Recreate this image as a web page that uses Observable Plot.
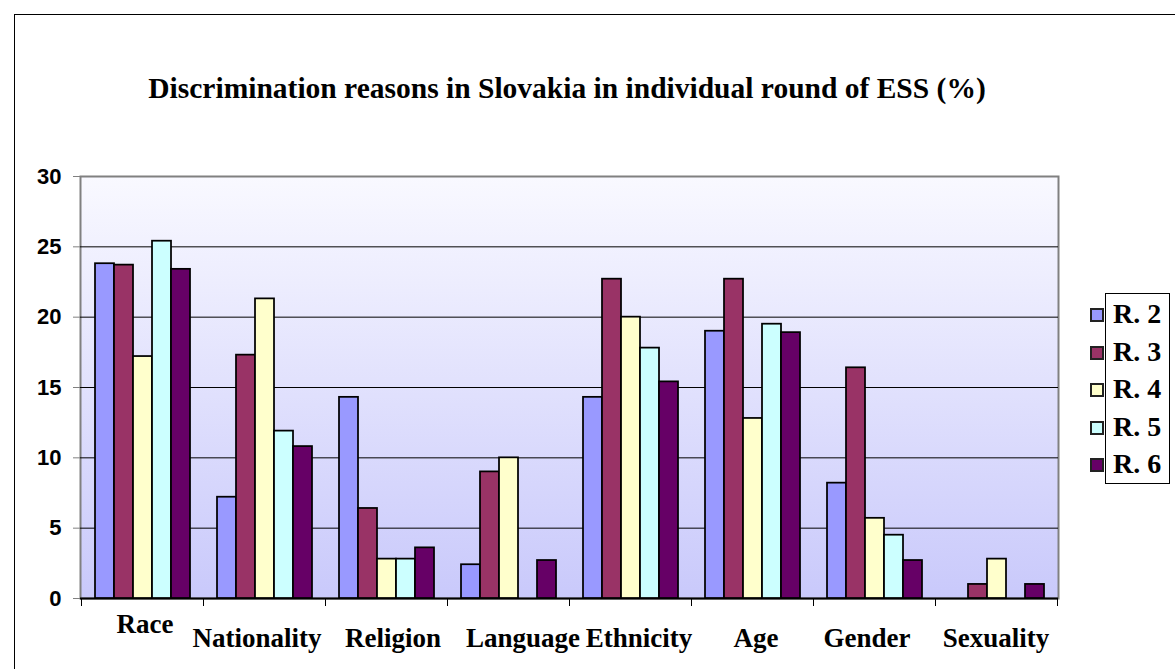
<!DOCTYPE html>
<html>
<head>
<meta charset="utf-8">
<script src="https://cdn.jsdelivr.net/npm/d3@7"></script>
<script src="https://cdn.jsdelivr.net/npm/@observablehq/plot@0.6"></script>
<style>
  html, body { margin: 0; padding: 0; background: #fff; overflow: hidden; }
  #wrap { position: relative; width: 1175px; height: 669px; }
  #frame { position: absolute; left: 14px; top: 14px; width: 1200px; height: 700px;
           border-left: 1px solid #000; border-top: 1px solid #000; }
  #title { position: absolute; left: 0; top: 74px; width: 1134px; text-align: center;
           font: bold 29.5px/29.5px "Liberation Serif", "Times New Roman", serif; color: #000; }
  .layer { position: absolute; left: 0; top: 0; }
  #legend { position: absolute; left: 1105px; top: 293px; width: 63px; height: 189px;
            border: 1px solid #000; }
  .item { position: absolute; left: -16px; height: 28px;
          font: bold 28px/28px "Liberation Serif", "Times New Roman", serif; color: #000; white-space: nowrap; }
  .sw { position: absolute; left: 0; top: 8px; width: 10px; height: 10px; border: 2px solid #222; }
  .lab { position: absolute; left: 23px; top: 0; }
</style>
</head>
<body>
<div id="wrap">
  <div id="frame"></div>
  <div id="back" class="layer"></div>
  <div id="front" class="layer"></div>
  <div id="title">Discrimination reasons in Slovakia in individual round of ESS (%)</div>
  <div id="legend"></div>
</div>
<script>
const categories = ["Race", "Nationality", "Religion", "Language", "Ethnicity", "Age", "Gender", "Sexuality"];
const rounds = ["R. 2", "R. 3", "R. 4", "R. 5", "R. 6"];
const r2 = [23.8, 7.2, 14.3, 2.4, 14.3, 19.0, 8.2, 0];
const r3 = [23.7, 17.3, 6.4, 9.0, 22.7, 22.7, 16.4, 1.0];
const r4 = [17.2, 21.3, 2.8, 10.0, 20.0, 12.8, 5.7, 2.8];
const r5 = [25.4, 11.9, 2.8, 0, 17.8, 19.5, 4.5, 0];
const r6 = [23.4, 10.8, 3.6, 2.7, 15.4, 18.9, 2.7, 1.0];
const roundColors = ["#9999ff", "#993366", "#ffffcc", "#ccffff", "#660066"];
const yTicks = [0, 5, 10, 15, 20, 25, 30];
const gridTicks = [5, 10, 15, 20, 25];

// label styling: horizontal nudges and stagger (as laid out in the original)
const labelDx = [2, -8, 6, 14, 8, 3, -8, -1];
const labelPad = [15, 29, 29, 29, 29, 29, 29, 29];

const series = [r2, r3, r4, r5, r6];
const data = [];
categories.forEach((c, i) => rounds.forEach((r, j) => data.push({category: c, round: r, value: series[j][i]})));

const serif = '"Liberation Serif", "Times New Roman", serif';
const sans = '"Liberation Sans", Arial, sans-serif';
const common = {width: 1175, height: 669, marginLeft: 80, marginRight: 117, marginTop: 176, marginBottom: 71};

// background layer: plot area, gridlines, baseline and value axis
const back = Plot.plot({
  ...common,
  style: {background: "transparent", overflow: "visible"},
  y: {domain: [0, 30], label: null},
  marks: [
    Plot.frame({fill: "url(#bgGrad)", stroke: "#808080", strokeWidth: 2}),
    Plot.ruleY(gridTicks, {stroke: "#000", strokeWidth: 1}),
    Plot.ruleY([0], {stroke: "#000", strokeWidth: 2}),
    Plot.axisY({ticks: yTicks, tickSize: 7, tickPadding: 12, label: null,
      stroke: "#808080", fontSize: 22, fontFamily: sans, fontWeight: "bold", color: "#000"})
  ]
});
const bsvg = d3.select(back);
const grad = bsvg.insert("defs", ":first-child").append("linearGradient")
  .attr("id", "bgGrad").attr("x1", 0).attr("y1", 0).attr("x2", 0).attr("y2", 1);
grad.append("stop").attr("offset", "0%").attr("stop-color", "#f9f9ff");
grad.append("stop").attr("offset", "100%").attr("stop-color", "#c9c9fb");
document.getElementById("back").appendChild(back);

// front layer: grouped bars faceted by category
const front = Plot.plot({
  ...common,
  style: {background: "transparent", overflow: "visible"},
  fx: {domain: categories, paddingInner: 0.223, paddingOuter: 0.1115, label: null},
  x: {domain: rounds, padding: 0, axis: null},
  y: {domain: [0, 30], axis: null},
  color: {domain: rounds, range: roundColors},
  marks: [
    Plot.barY(data.filter(d => d.value > 0), {fx: "category", x: "round", y: "value", fill: "round",
      stroke: "#000", strokeWidth: 1.75}),
    ...categories.map((c, i) => Plot.axisFx({anchor: "bottom", ticks: [c], tickSize: 0,
      tickPadding: labelPad[i], dx: labelDx[i], label: null,
      fontSize: 27, fontFamily: serif, fontWeight: "bold", color: "#000"}))
  ]
});

// category separator ticks below the baseline, positioned with the fx scale
const fx = front.scale("fx");
const y = front.scale("y");
const gap = fx.step - fx.bandwidth;
const edges = categories.map(c => fx.apply(c) - gap / 2)
  .concat([fx.apply(categories[categories.length - 1]) + fx.bandwidth + gap / 2]);
const y0 = y.apply(0);
d3.select(front).append("g").selectAll("line").data(edges).join("line")
  .attr("x1", d => d).attr("x2", d => d).attr("y1", y0).attr("y2", y0 + 8)
  .attr("stroke", "#000").attr("stroke-width", 1);
document.getElementById("front").appendChild(front);

// legend
const legend = d3.select("#legend");
rounds.forEach((r, i) => {
  const it = legend.append("div").attr("class", "item").style("top", (6 + i * 37.5) + "px");
  it.append("div").attr("class", "sw").style("background", roundColors[i]);
  it.append("div").attr("class", "lab").text(r);
});
</script>
</body>
</html>
